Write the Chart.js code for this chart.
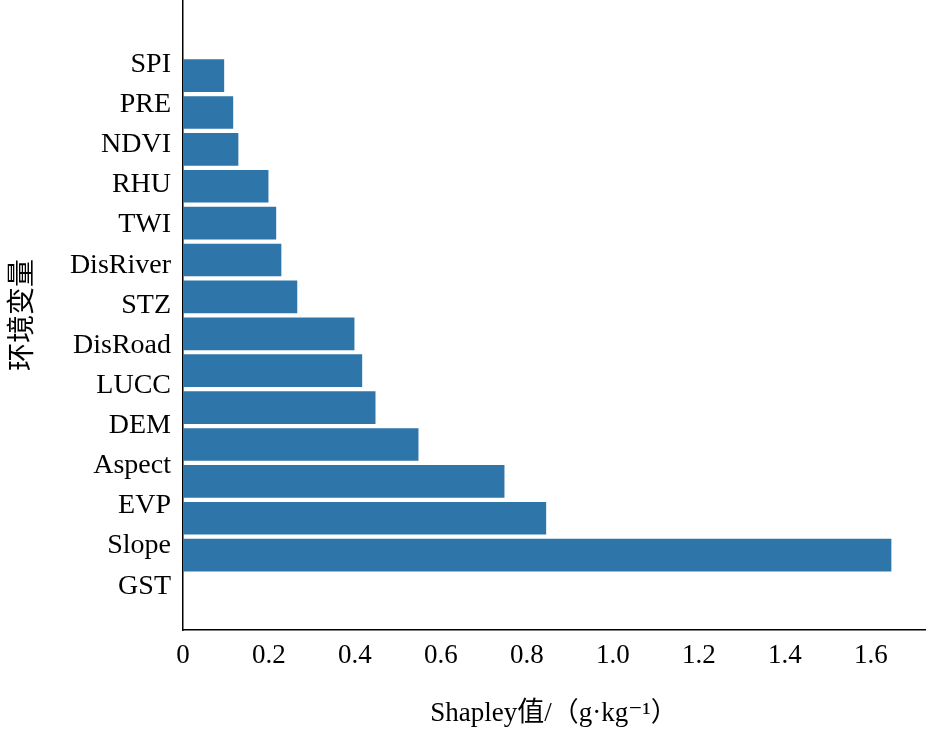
<!DOCTYPE html>
<html><head><meta charset="utf-8">
<script src="https://cdn.jsdelivr.net/npm/chart.js@4"></script>
<style>html,body{margin:0;padding:0;background:#fff}#w{width:929px;height:734px}</style>
</head><body><div id="w"><canvas id="c"></canvas></div>
<script>
const categories = ["GST","Slope","EVP","Aspect","DEM","LUCC","DisRoad","STZ","DisRiver","TWI","RHU","NDVI","PRE","SPI"];
const shapley = [1.647,0.844,0.747,0.547,0.447,0.416,0.398,0.265,0.228,0.216,0.198,0.128,0.116,0.095];
const xTicks = [0,0.2,0.4,0.6,0.8,1.0,1.2,1.4,1.6];
const F = "'Liberation Serif','DejaVu Serif',serif";
new Chart(document.getElementById('c'), {
  type: 'bar',
  data: { datasets: [{ data: categories.map((c,i)=>({x:shapley[i], y:i})), backgroundColor:'#2e75aa', barThickness:32, yAxisID:'yb' }] },
  options: {
    indexAxis:'y', responsive:true, maintainAspectRatio:false, animation:false,
    layout:{padding:{top:0,right:4,left:0,bottom:0}},
    plugins:{legend:{display:false},tooltip:{enabled:false}},
    scales:{
      x:{type:'linear',min:0,max:1.726,position:'bottom',
        afterBuildTicks:a=>{a.ticks=xTicks.map(v=>({value:v}));},
        afterFit:a=>{a.height=104;},
        grid:{display:false,drawTicks:true,tickLength:6,color:'#000'},
        border:{color:'#000',width:1.5},
        ticks:{color:'#000',font:{family:F,size:27},padding:4,callback:v=>v===0?'0':v.toFixed(1)},
        title:{display:true,text:'Shapley值/（g·kg⁻¹）',color:'#000',font:{family:F+",'Noto Sans CJK SC'",size:27},padding:{top:10}}},
      yb:{type:'linear',min:-1.08,max:14.1,display:false},
      yl:{type:'linear',position:'left',min:-0.53,max:14.05,
        afterBuildTicks:a=>{a.ticks=categories.map((c,i)=>({value:i}));},
        afterFit:a=>{a.width=183;a.paddingTop=0;a.paddingBottom=0;},
        grid:{display:false,tickLength:0},
        border:{color:'#000',width:1.5},
        ticks:{color:'#000',font:{family:F,size:28},padding:12,autoSkip:false,callback:v=>categories[v]},
        title:{display:true,text:'环境变量',color:'#000',font:{family:"'Noto Sans CJK SC',serif",size:28},padding:{bottom:0}}}
    }
  }
});
</script></body></html>
